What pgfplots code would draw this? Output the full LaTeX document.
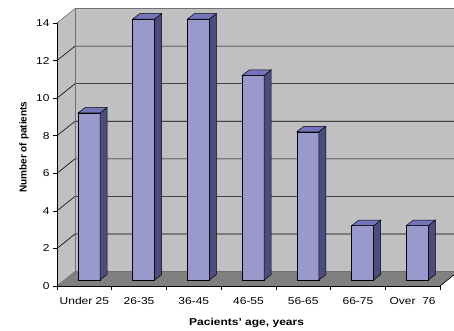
\documentclass[border=0pt]{standalone}
\usepackage{fontspec}
\setmainfont{Liberation Sans}[FakeStretch=1.2]
\newfontfamily\ylabfont{Liberation Sans}
\usepackage{pgfplots}
\pgfplotsset{compat=1.18}
\definecolor{wallc}{RGB}{192,192,194}
\definecolor{floorc}{RGB}{128,128,128}
\definecolor{edgec}{RGB}{112,112,112}
\definecolor{barfront}{RGB}{153,153,204}
\definecolor{bartop}{RGB}{116,116,186}
\definecolor{barside}{RGB}{76,76,126}

% one 3-D column: #1 = category index (0,1,...), #2 = value
\newcommand\tdbar[2]{%
  \pgfmathsetmacro\xa{#1+0.384}%
  \pgfmathsetmacro\xb{#1+0.786}%
  \pgfmathsetmacro\xc{#1+0.914}%
  \pgfmathsetmacro\xd{#1+0.512}%
  \pgfmathsetmacro\ya{#2+0.21}%
  \pgfmathsetmacro\yb{#2+0.50}%
  \edef\doit{%
    \noexpand\addplot[fill=barfront, draw=black, line width=0.5pt]
      coordinates {(\xa,0.32) (\xb,0.32) (\xb,\ya) (\xa,\ya)} --cycle;
    \noexpand\addplot[fill=barside, draw=black, line width=0.5pt]
      coordinates {(\xb,0.32) (\xc,0.61) (\xc,\yb) (\xb,\ya)} --cycle;
    \noexpand\addplot[fill=bartop, draw=black, line width=0.5pt]
      coordinates {(\xa,\ya) (\xb,\ya) (\xc,\yb) (\xd,\yb)} --cycle;
  }\doit}

\begin{document}
\begin{tikzpicture}[font=\fontsize{10}{12}\selectfont]
\begin{axis}[
  at={(57pt,45pt)}, anchor=south west,
  scale only axis, width=383pt, height=263pt,
  xmin=0, xmax=7, ymin=0, ymax=14,
  clip=false, axis on top,
  axis lines*=left,
  axis line style={black, line width=0.6pt},
  xtick={0.5,1.5,2.5,3.5,4.5,5.5,6.5},
  xticklabels={Under 25, 26-35, 36-45, 46-55, 56-65, 66-75, Over\ \ 76},
  xtick style={draw=none},
  xticklabel style={yshift=-4pt},
  ytick={0,2,...,14},
  tick align=outside, major tick length=4pt,
  ytick style={black, line width=0.6pt},
  /pgf/number format/assume math mode=true,
  tick label style={font=\fontsize{10}{12}\selectfont},
  xlabel={Pacients’ age, years},
  xlabel style={at={(rel axis cs:0.495,0)}, anchor=base, yshift=-39.7pt,
    font=\bfseries\fontsize{10}{12}\selectfont},
  ylabel={Number of patients},
  ylabel style={at={(rel axis cs:0,0.528)}, anchor=base, yshift=30.5pt,
    font=\ylabfont\bfseries\fontsize{10}{12}\selectfont},
]
% walls and floor
\fill[wallc] (axis cs:0,0) -- (axis cs:0,14) -- (axis cs:0.33,14.77) -- (axis cs:0.33,0.77) -- cycle;
\fill[wallc] (axis cs:0.33,0.77) rectangle (axis cs:7.3,14.77);
\fill[floorc] (axis cs:0,0) -- (axis cs:7,0) -- (axis cs:7.33,0.77) -- (axis cs:0.33,0.77) -- cycle;
% gridlines
\draw[black, line width=0.6pt] (axis cs:0,2) -- (axis cs:0.33,2.77) -- (axis cs:7.3,2.77);
\draw[black, line width=0.6pt] (axis cs:0,4) -- (axis cs:0.33,4.77) -- (axis cs:7.3,4.77);
\draw[black, line width=0.6pt] (axis cs:0,6) -- (axis cs:0.33,6.77) -- (axis cs:7.3,6.77);
\draw[black, line width=0.6pt] (axis cs:0,8) -- (axis cs:0.33,8.77) -- (axis cs:7.3,8.77);
\draw[black, line width=0.6pt] (axis cs:0,10) -- (axis cs:0.33,10.77) -- (axis cs:7.3,10.77);
\draw[black, line width=0.6pt] (axis cs:0,12) -- (axis cs:0.33,12.77) -- (axis cs:7.3,12.77);
\draw[edgec, line width=0.6pt] (axis cs:0,14) -- (axis cs:0.33,14.77) -- (axis cs:7.3,14.77);
\draw[edgec, line width=0.6pt] (axis cs:0.33,0.77) -- (axis cs:0.33,14.77);
\draw[edgec, line width=0.6pt] (axis cs:0,0) -- (axis cs:0.33,0.77) -- (axis cs:7.33,0.77);
\draw[black, line width=0.6pt] (axis cs:7,0) -- (axis cs:7.33,0.77);
% x tick marks at category boundaries
\pgfplotsinvokeforeach{0,...,7}{\draw[black, line width=0.6pt] (axis cs:#1,0) -- ++(0pt,-4pt);}
% columns
\tdbar{0}{9}
\tdbar{1}{14}
\tdbar{2}{14}
\tdbar{3}{11}
\tdbar{4}{8}
\tdbar{5}{3}
\tdbar{6}{3}
\end{axis}
\pgfresetboundingbox
\path[use as bounding box] (0,0) rectangle (454pt,331pt);
\end{tikzpicture}
\end{document}
